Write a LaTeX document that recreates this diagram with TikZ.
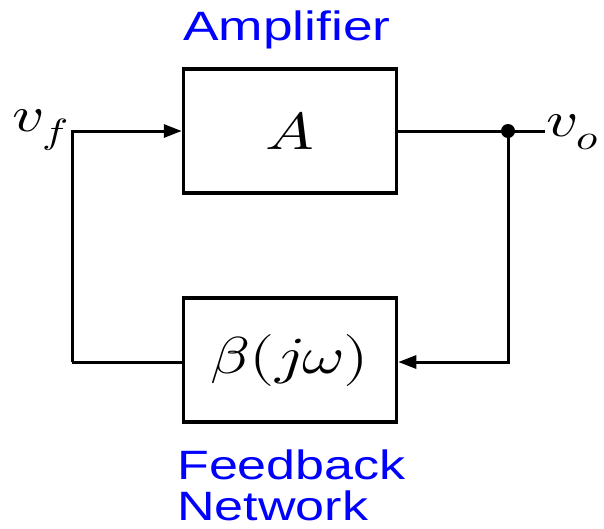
\documentclass[tikz,border=0pt]{standalone}
\usepackage{fontspec}
\setmainfont{Liberation Sans}
\usepackage{unicode-math}
\setmathfont{Latin Modern Math}
\usetikzlibrary{arrows.meta}
\newcommand{\widen}[1]{\scalebox{1.25}[1]{#1}}
\begin{document}
\begin{tikzpicture}[x=1pt,y=-1pt,
  blockbox/.style={draw,line width=3.5pt,minimum width=213pt,minimum height=124pt,inner sep=0pt,
     font=\fontsize{52}{56}\selectfont},
  wire/.style={line width=3pt},
  lbl/.style={text=blue,font=\fontsize{41}{43}\selectfont,inner sep=0pt},
  mlbl/.style={font=\fontsize{50}{54}\selectfont,inner sep=0pt},
  arr/.style={wire,-{Triangle[length=18pt,width=13pt]}}]
\useasboundingbox (0,0) rectangle (604,528);
\node[blockbox] (amp) at (290,131) {\widen{$A$}};
\node[blockbox] (fb) at (290,360) {\widen{$\beta(j\omega)$}};
\node[lbl] (ampl) at (287,30) {\scalebox{1.3}[1]{Amplifier}};
\node[lbl,anchor=west] (fbl) at (177,465) {\scalebox{1.27}[1]{Feedback}};
\node[lbl,anchor=west] (fbl2) at (177,506) {\scalebox{1.27}[1]{Network}};
\coordinate (tl) at (72,131);
\coordinate (bl) at (72,362);
\coordinate (br) at (508,362);
\coordinate (out) at (545,131);
\coordinate (junc) at (508,131);
\node[mlbl,anchor=west] (vf) at (12,130) {\widen{$v_f$}};
\node[mlbl,anchor=west] (vo) at (546,132) {\widen{$v_o$}};
\draw[arr] (bl) -- (tl) -- (amp.west);
\draw[wire] (amp.east) -- (out);
\draw[arr] (junc) -- (br) -- (fb.east |- br);
\draw[wire] (fb.west |- bl) -- (bl);
\fill (junc) circle (7pt);
\end{tikzpicture}
\end{document}
